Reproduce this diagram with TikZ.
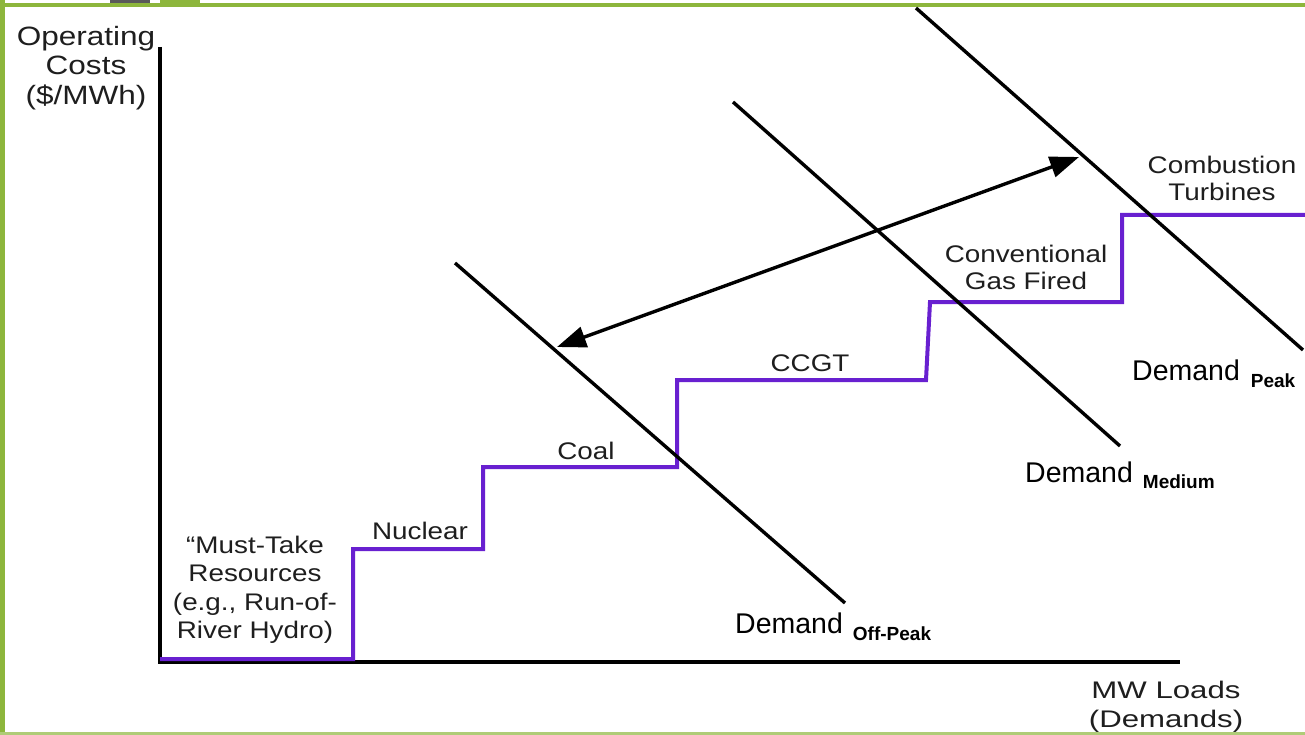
\documentclass[tikz,border=0pt]{standalone}
\usepackage{fontspec}
\setmainfont{Liberation Sans}
\newfontfamily\stfont[FakeStretch=1.16]{Liberation Sans}
\newfontfamily\stfontb[FakeStretch=1.19]{Liberation Sans}
\newfontfamily\stfontw[FakeStretch=1.3]{Liberation Sans}
\usetikzlibrary{arrows.meta}
\definecolor{frameG}{RGB}{141,182,60}
\definecolor{stepP}{RGB}{104,32,208}
\definecolor{txt}{RGB}{30,30,30}
\begin{document}
\begin{tikzpicture}[x=1pt,y=-1pt,
  lbl/.style={font=\stfont\fontsize{24}{27}\selectfont, text=txt, inner sep=0pt, align=center},
  dem/.style={font=\fontsize{28.5}{30}\selectfont, anchor=base west, inner sep=0pt},
  axis/.style={line width=3.5pt, black},
  stepline/.style={line width=4pt, stepP, line join=miter},
  demline/.style={line width=3.4pt, black},
  dbl/.style={line width=3.4pt, {Triangle[length=29pt,width=21pt]}-{Triangle[length=29pt,width=21pt]}}]
\useasboundingbox (0,0) rectangle (1305,735);
% frame
\fill[frameG] (0,3) rectangle (1305,7);
\fill[frameG] (0,0) rectangle (5,735);
\fill[frameG!70] (0,732) rectangle (1305,735);
\fill[black!65] (110,0) rectangle (150,3);
\fill[frameG] (160,0) rectangle (200,7);
% axes
\coordinate (O) at (160,662);
\coordinate (ytop) at (160,47);
\coordinate (xend) at (1180,662);
\draw[axis] (ytop) -- (O) -- (xend);
% supply stack
\draw[stepline] (160,659) -- (353,659) -- (353,549) -- (483,549) -- (483,467) -- (677,467) -- (677,380) -- (926,380) -- (930,302) -- (1122,302) -- (1122,215) -- (1305,215);
% demand curves
\coordinate (offA) at (455,263); \coordinate (offB) at (845,603);
\coordinate (medA) at (733,102); \coordinate (medB) at (1120,446);
\coordinate (peakA) at (916,8); \coordinate (peakB) at (1303,350);
\draw[demline] (offA) -- (offB);
\draw[demline] (medA) -- (medB);
\draw[demline] (peakA) -- (peakB);
% arrow
\coordinate (arL) at (557,347);
\coordinate (arR) at (1079,157);
\draw[dbl] (arL) -- (arR);
% labels
\node[lbl, font=\stfontb\fontsize{26.5}{29.5}\selectfont] (ylab) at (86,68) {Operating\\Costs\\(\$/MWh)};
\node[lbl] (ct) at (1222,178) {Combustion\\Turbines};
\node[lbl] (gas) at (1026,267) {Conventional\\Gas Fired};
\node[lbl] (ccgt) at (810,363) {CCGT};
\node[lbl] (coal) at (586,451) {Coal};
\node[lbl, font=\stfont\fontsize{24}{28}\selectfont] (nuc) at (420,531) {Nuclear};
\node[lbl, font=\stfont\fontsize{24}{28.5}\selectfont] (must) at (255,590) {“Must-Take\\Resources\\(e.g., Run-of-\\River Hydro)};
\node[lbl, font=\stfontw\fontsize{24}{29}\selectfont] (mw) at (1166,707) {MW Loads\\(Demands)};
\node[dem] (dpeak) at (1132,380) {Demand\hspace{11pt}\raisebox{-7pt}{\fontsize{19}{19}\selectfont\bfseries Peak}};
\node[dem] (dmed) at (1025,482) {Demand\hspace{10pt}\raisebox{-6pt}{\fontsize{19}{19}\selectfont\bfseries Medium}};
\node[dem] (doff) at (735,633) {Demand\hspace{10pt}\raisebox{-7pt}{\fontsize{19}{19}\selectfont\bfseries Off-Peak}};
\end{tikzpicture}
\end{document}
